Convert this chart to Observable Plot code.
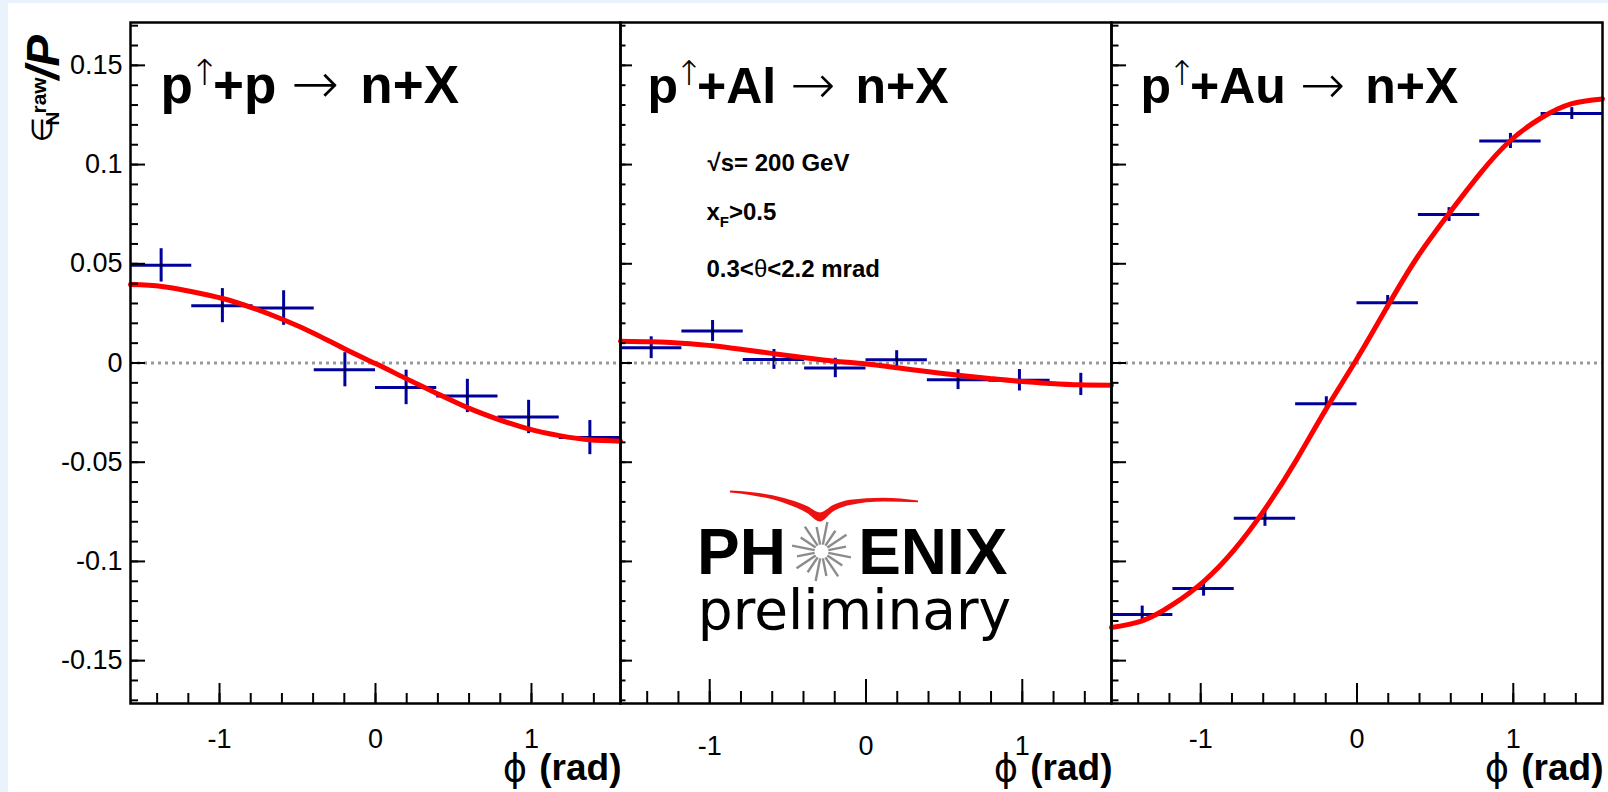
<!DOCTYPE html>
<html>
<head>
<meta charset="utf-8">
<script src="https://cdn.jsdelivr.net/npm/d3@7"></script>
<script src="https://cdn.jsdelivr.net/npm/@observablehq/plot@0.6"></script>
<style>
  html, body { margin: 0; padding: 0; }
  body { width: 1608px; height: 792px; background: #eaf2fb; overflow: hidden; position: relative; }
  #sheet { position: absolute; left: 8px; top: 3px; width: 1600px; height: 789px; background: #ffffff; }
  #chart { position: absolute; left: 0; top: 0; width: 1608px; height: 792px; }
</style>
</head>
<body>
<div id="sheet"></div>
<div id="chart"></div>
<script>
// ---- azimuthal bins (rad) ----
const binEdges   = [-1.5708, -1.1781, -0.7854, -0.3927, 0, 0.3927, 0.7854, 1.1781, 1.5708];
const binCenters = [-1.3744, -0.9817, -0.5890, -0.1963, 0.1963, 0.5890, 0.9817, 1.3744];

// ---- raw asymmetry per bin, with statistical errors ----
const ppValues  = [0.0492, 0.0289, 0.0277, -0.0034, -0.0123, -0.0166, -0.0272, -0.0376];
const ppErrors  = [0.0084, 0.0086, 0.0087, 0.0086, 0.0087, 0.0084, 0.0084, 0.0086];
const pAlValues = [0.0077, 0.0161, 0.0018, -0.0025, 0.0017, -0.0084, -0.0087, -0.0108];
const pAlErrors = [0.0055, 0.0053, 0.0050, 0.0049, 0.0045, 0.0050, 0.0054, 0.0056];
const pAuValues = [-0.1267, -0.1136, -0.0783, -0.0205, 0.0304, 0.0748, 0.1119, 0.1257];
const pAuErrors = [0.0042, 0.0039, 0.0040, 0.0035, 0.0036, 0.0035, 0.0038, 0.0030];

// ---- fitted curves, sampled along phi ----
const fitPhi = [-1.5708, -1.37, -1.18, -0.98, -0.79, -0.59, -0.39, -0.2, 0, 0.2, 0.39, 0.59, 0.79, 0.98, 1.18, 1.37, 1.5708];
const ppFit  = [0.0395, 0.0386, 0.0360, 0.0325, 0.0278, 0.0218, 0.0148, 0.0072, -0.0003, -0.0080, -0.0152, -0.0225, -0.0285, -0.0332, -0.0366, -0.0387, -0.0394];
const pAlFit = [0.0110, 0.0107, 0.0100, 0.0087, 0.0068, 0.0047, 0.0026, 0.0009, -0.0005, -0.0024, -0.0043, -0.0062, -0.0078, -0.0092, -0.0103, -0.0110, -0.0112];
const pAuFit = [-0.1333, -0.1298, -0.1218, -0.1100, -0.0946, -0.0738, -0.0492, -0.0235, 0.0021, 0.0292, 0.0538, 0.0755, 0.0957, 0.1120, 0.1236, 0.1306, 0.1331];

// ---- axes ----
const xTickValues = [-1, 0, 1];
const xTickLabels = ["-1", "0", "1"];
const yTickValues = [-0.15, -0.1, -0.05, 0, 0.05, 0.1, 0.15];
const yTickLabels = ["-0.15", "-0.1", "-0.05", "0", "0.05", "0.1", "0.15"];
const xMinorTicks = d3.range(-7, 8).map(k => k / 5);
const yMinorTicks = d3.range(-17, 18).map(k => k / 100);
const xDomain = [-Math.PI / 2, Math.PI / 2];
const yDomain = [-0.1716, 0.1716];

// ---- panel titles ----
const reactions = ["+p", "+Al", "+Au"];

const W = 1608, H = 792, TOP = 22, BOTTOM = 703;
const FONT = "'Liberation Sans', Arial, Helvetica, sans-serif";
const SYMBOL_FONT = "'DejaVu Sans', sans-serif";
const LOGO_FONT = "'DejaVu Sans', 'Liberation Sans', sans-serif";
const BLUE = "#00009c";

const svgStyle = {
  position: "absolute", left: "0px", top: "0px",
  background: "transparent", overflow: "visible", maxWidth: "none",
  fontFamily: FONT
};

const panels = [
  {left: 130, right: 620, values: ppValues, errors: ppErrors, fit: ppFit, yLabels: true,
   majorY: 15, minorY: 8, majorX: 20, minorX: 10, xLabelDy: 44, titleX: 160, titleSize: 53},
  {left: 620, right: 1111, values: pAlValues, errors: pAlErrors, fit: pAlFit, yLabels: false,
   majorY: 12, minorY: 5.5, majorX: 24, minorX: 12, xLabelDy: 51, titleX: 647, titleSize: 50},
  {left: 1111, right: 1602, values: pAuValues, errors: pAuErrors, fit: pAuFit, yLabels: false,
   majorY: 15, minorY: 7.5, majorX: 20, minorX: 10, xLabelDy: 44, titleX: 1140, titleSize: 50}
];

const chart = document.getElementById("chart");

panels.forEach(p => {
  const pw = p.right - p.left, ph = BOTTOM - TOP;
  const rows = binCenters.map((c, i) => ({phi: c, lo: binEdges[i], hi: binEdges[i + 1], v: p.values[i], e: p.errors[i]}));
  const fitRows = fitPhi.map((phi, i) => ({phi, v: p.fit[i]}));
  const xTicks = xTickValues.map((v, i) => ({v, label: xTickLabels[i]}));
  const yTicks = yTickValues.map((v, i) => ({v, label: yTickLabels[i]}));
  const marks = [
    // bin-width horizontal bars and vertical error bars
    Plot.ruleY(rows, {y: "v", x1: "lo", x2: "hi", stroke: BLUE, strokeWidth: 3}),
    Plot.ruleX(rows, {x: "phi", y1: d => d.v - d.e, y2: d => d.v + d.e, stroke: BLUE, strokeWidth: 3}),
    Plot.dot(rows, {x: "phi", y: "v", r: 1.3, fill: "#000", stroke: null}),
    // zero reference
    Plot.ruleY([0], {stroke: "#999999", strokeWidth: 3, strokeDasharray: "3 4"}),
    // fit
    Plot.line(fitRows, {x: "phi", y: "v", stroke: "#ff0000", strokeWidth: 5, curve: "natural"}),
    // inward ticks
    Plot.tickY(yMinorTicks, {y: d => d, stroke: "#000", strokeWidth: 2, insetRight: pw - p.minorY}),
    Plot.tickY(yTickValues, {y: d => d, stroke: "#000", strokeWidth: 2, insetRight: pw - p.majorY}),
    Plot.tickX(xMinorTicks, {x: d => d, stroke: "#000", strokeWidth: 2, insetTop: ph - p.minorX}),
    Plot.tickX(xTickValues, {x: d => d, stroke: "#000", strokeWidth: 2, insetTop: ph - p.majorX}),
    Plot.frame({stroke: "#000", strokeWidth: 2.5}),
    // x tick labels
    Plot.text(xTicks, {x: "v", text: "label", frameAnchor: "bottom", dy: p.xLabelDy, lineAnchor: "bottom",
                       textAnchor: "middle", fontSize: 27, fill: "#000"})
  ];
  if (p.yLabels) {
    marks.push(Plot.text(yTicks, {y: "v", text: "label", frameAnchor: "left", textAnchor: "end", dx: -8,
                                  fontSize: 27, fill: "#000"}));
  }
  const svg = Plot.plot({
    width: W, height: H,
    marginLeft: p.left, marginRight: W - p.right, marginTop: TOP, marginBottom: H - BOTTOM,
    x: {domain: xDomain, axis: null},
    y: {domain: yDomain, axis: null},
    style: svgStyle,
    marks
  });
  chart.appendChild(svg);
});

// ---- text layout helpers ----
const ctx = document.createElement("canvas").getContext("2d");
function measure(text, size, weight = "normal", style = "normal", family = FONT) {
  ctx.font = `${style} ${weight} ${size}px ${family}`;
  return ctx.measureText(text).width;
}

const labels = [];

// panel titles: p↑+A → n+X
panels.forEach((p, i) => {
  const x0 = p.titleX, y = 102, s = p.titleSize, k = s / 50;
  const arrowSize = 54 * k;
  const pW = measure("p", s, "bold");
  labels.push({text: "p", x: x0, y, size: s, weight: "bold"});
  labels.push({text: "\u2191", x: x0 + pW + 11 * k, y: 84, size: 34 * k, anchor: "middle", family: SYMBOL_FONT, weight: 300});
  let x = x0 + pW + 19 * k;
  labels.push({text: reactions[i], x, y, size: s, weight: "bold"});
  x += measure(reactions[i], s, "bold") + 14 * k;
  labels.push({text: "\u2192", x, y, size: arrowSize, family: SYMBOL_FONT, weight: 300});
  x += measure("\u2192", arrowSize, 300, "normal", SYMBOL_FONT) + 20 * k;
  labels.push({text: "n+X", x, y, size: s, weight: "bold"});
});

// kinematic conditions
{
  const s = 24;
  labels.push({text: "\u221As= 200 GeV", x: 707, y: 170, size: s, weight: "bold"});
  let x = 706;
  labels.push({text: "x", x, y: 219, size: s, weight: "bold"});
  x += measure("x", s, "bold");
  labels.push({text: "F", x, y: 226, size: 15, weight: "bold"});
  x += measure("F", 15, "bold");
  labels.push({text: ">0.5", x, y: 219, size: s, weight: "bold"});
  x = 706;
  labels.push({text: "0.3<", x, y: 276.5, size: s, weight: "bold"});
  x += measure("0.3<", s, "bold");
  labels.push({text: "\u03B8", x, y: 276.5, size: s});
  x += measure("\u03B8", s);
  labels.push({text: "<2.2 mrad", x, y: 276.5, size: s, weight: "bold"});
}

// x-axis titles
panels.forEach(p => {
  labels.push({text: "(rad)", x: p.right + 1, y: 779, size: 37, weight: "bold", anchor: "end"});
  labels.push({text: "\u03D5", x: p.right - measure("(rad)", 37, "bold") - 11, y: 780, size: 37,
               anchor: "end", family: SYMBOL_FONT});
});

// y-axis title, reading upward
labels.push({text: "\u2208", x: 51, y: 142, size: 29, rotate: -90, family: SYMBOL_FONT});
labels.push({text: "N", x: 58, y: 125, size: 19, weight: "bold", rotate: -90});
labels.push({text: "raw", x: 45, y: 113, size: 21, weight: "bold", rotate: -90});
labels.push({text: "/P", x: 58, y: 79, size: 47, weight: "bold", fontStyle: "italic", rotate: -90});

// logo text
labels.push({text: "PH", x: 696.5, y: 573, size: 64, weight: "bold"});
labels.push({text: "ENIX", x: 1007, y: 573, size: 64, weight: "bold", anchor: "end"});
labels.push({text: "preliminary", x: 854, y: 628, size: 55, family: LOGO_FONT, anchor: "middle"});

// logo graphics: starburst and swoosh
const burstAngles = d3.range(16).map(k => k * Math.PI / 8 + Math.PI / 16);
const burst = burstAngles.map((a, k) => {
  const r0 = 7, r1 = k % 2 ? 25 : 30;
  return {x1: 821 + r0 * Math.cos(a), y1: 551 + r0 * Math.sin(a), x2: 821 + r1 * Math.cos(a), y2: 551 + r1 * Math.sin(a)};
});
const swoosh = [
  {x: 730, top: 490.5, bot: 492.5},
  {x: 750, top: 492.0, bot: 495.0},
  {x: 783, top: 497.8, bot: 502.5},
  {x: 807, top: 506.0, bot: 513.0},
  {x: 820, top: 512.5, bot: 521.5},
  {x: 833, top: 505.0, bot: 511.5},
  {x: 850, top: 499.8, bot: 505.0},
  {x: 883, top: 497.8, bot: 501.5},
  {x: 918, top: 500.5, bot: 502.2}
];

const overlay = Plot.plot({
  width: W, height: H, margin: 0,
  x: {type: "identity"}, y: {type: "identity"},
  style: svgStyle,
  marks: [
    Plot.areaY(swoosh, {x: "x", y1: "top", y2: "bot", fill: "#ee1111", curve: "monotone-x"}),
    Plot.link(burst, {x1: "x1", y1: "y1", x2: "x2", y2: "y2", stroke: "#8c8c8c", strokeWidth: 2.4}),
    ...labels.map(t => Plot.text([t], {
      x: "x", y: "y", text: "text",
      fontSize: t.size, fontWeight: t.weight || "normal", fontStyle: t.fontStyle || "normal",
      fontFamily: t.family || FONT, textAnchor: t.anchor || "start", lineAnchor: "bottom",
      rotate: t.rotate || 0, fill: "#000"
    }))
  ]
});
chart.appendChild(overlay);
</script>
</body>
</html>
